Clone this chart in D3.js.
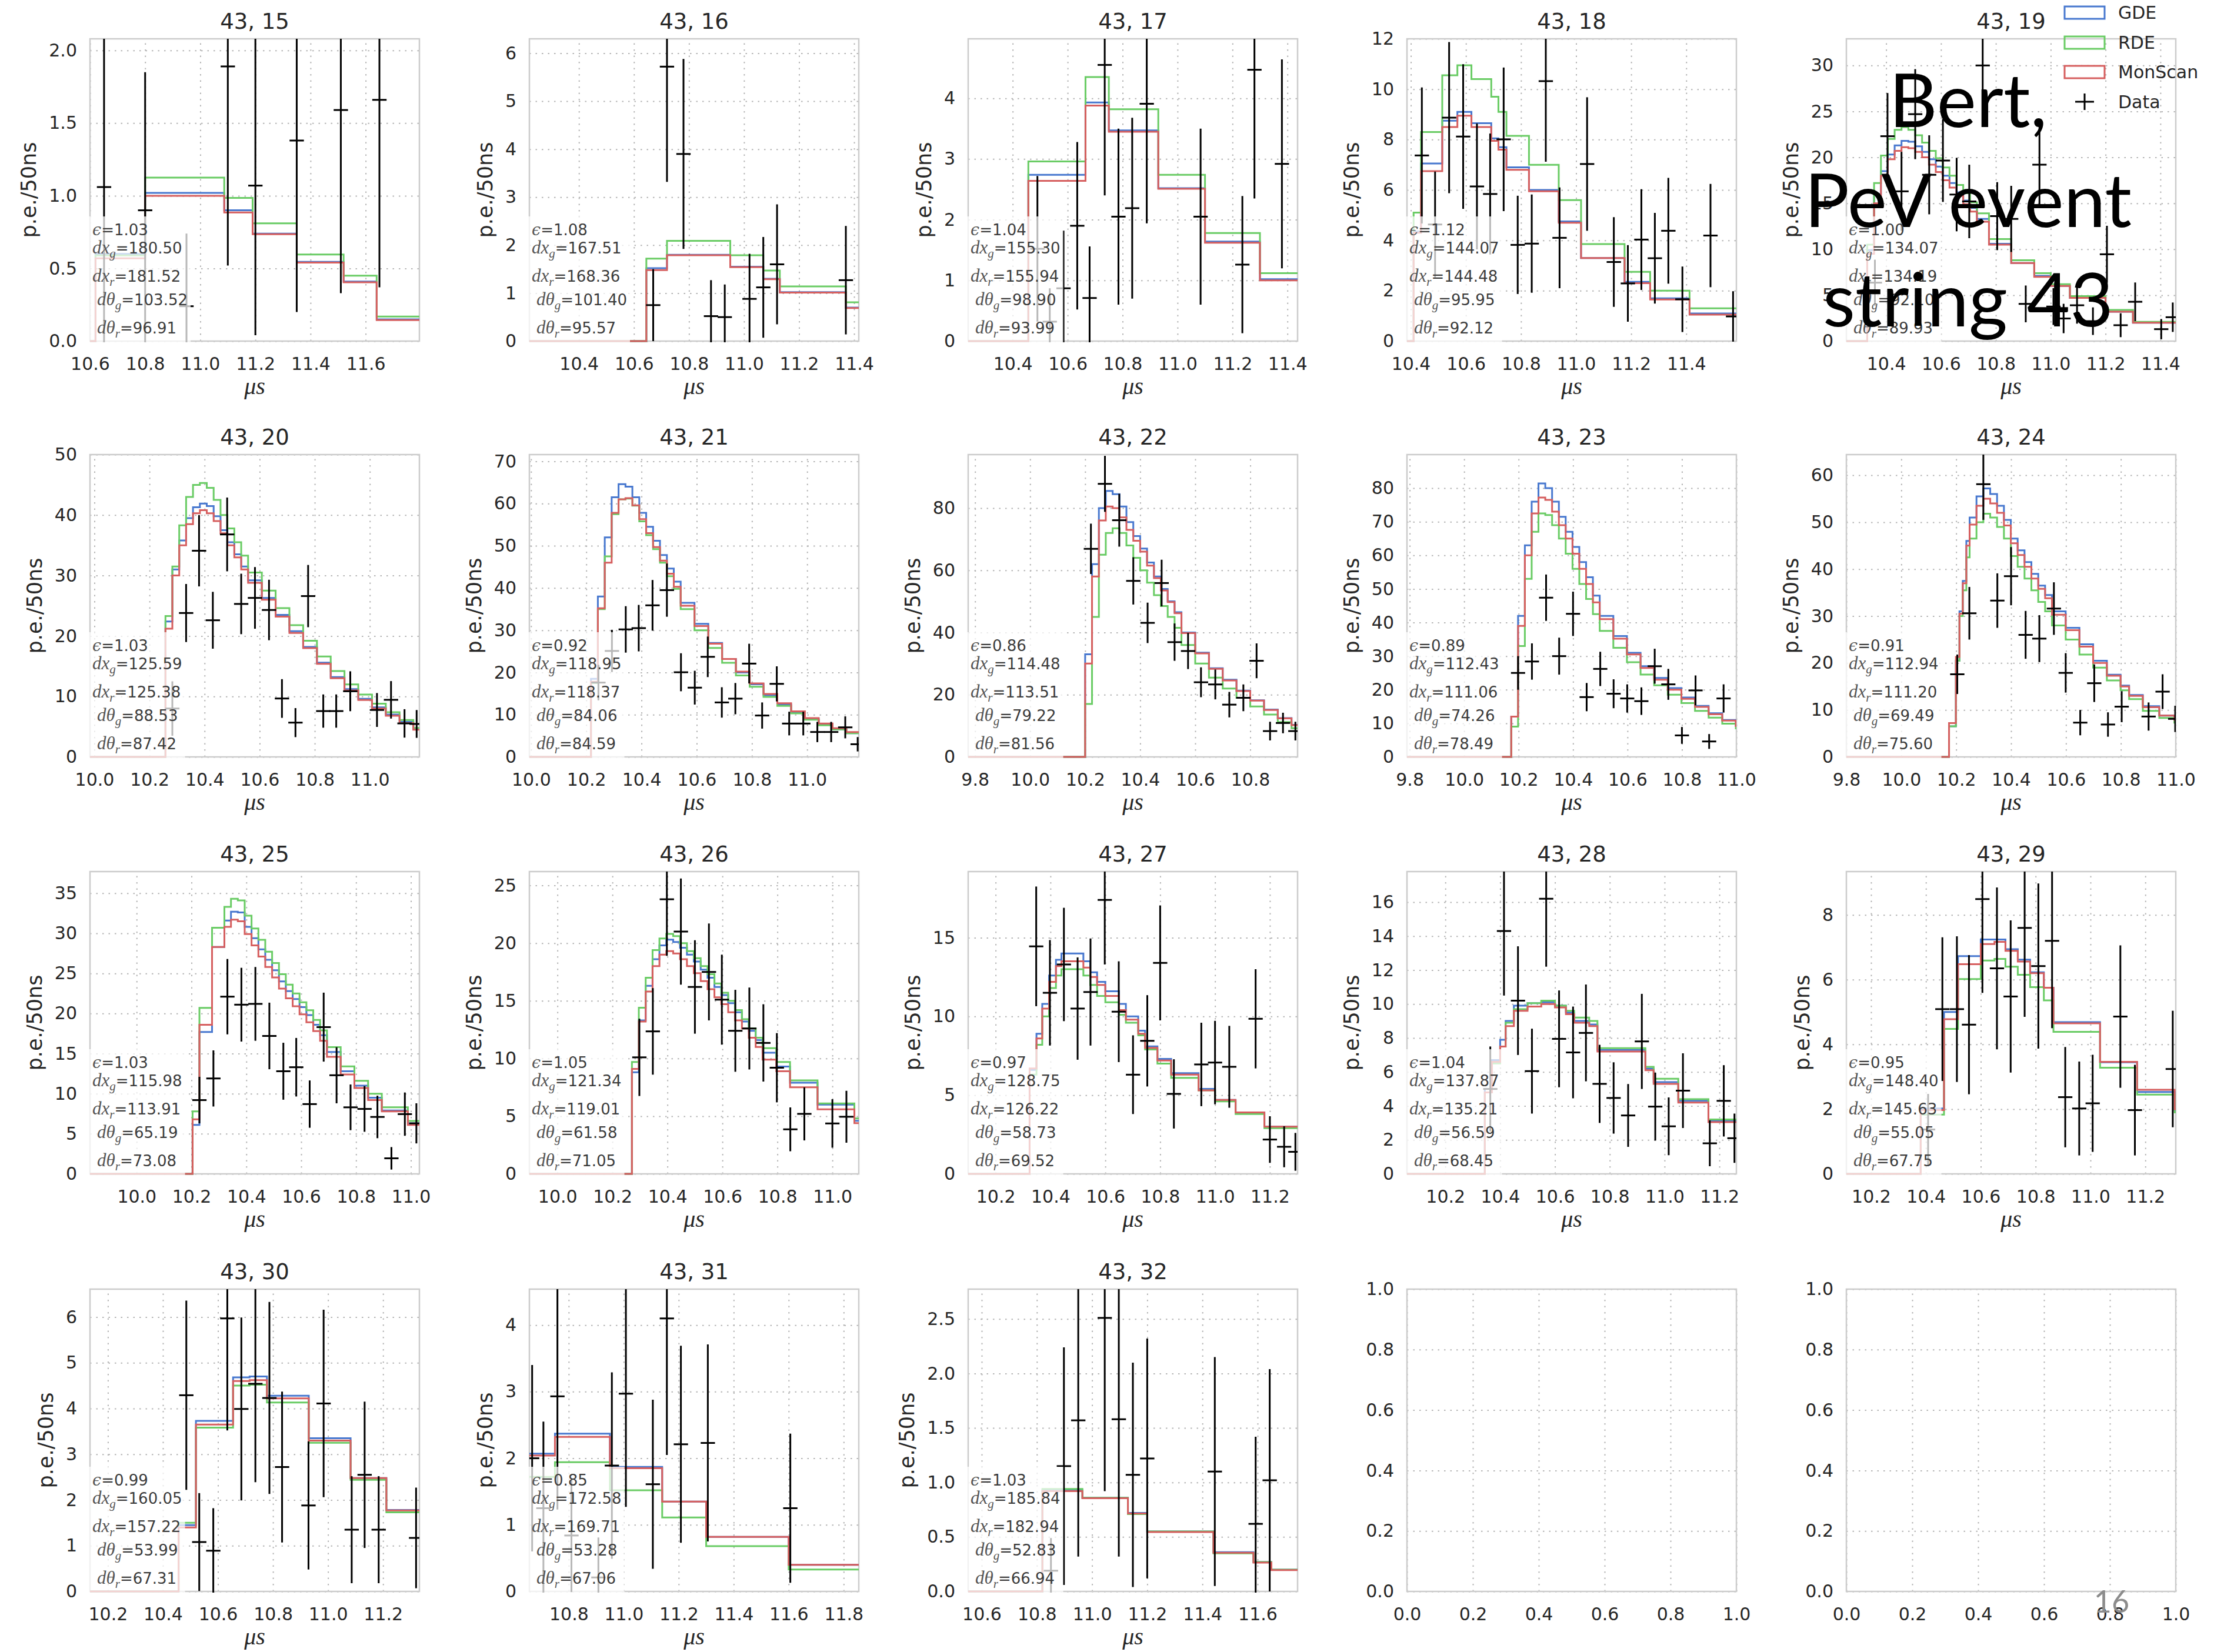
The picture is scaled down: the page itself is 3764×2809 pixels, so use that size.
<!DOCTYPE html>
<html><head><meta charset="utf-8">
<script src="https://cdn.jsdelivr.net/npm/d3@7/dist/d3.min.js"></script>
<style>body{margin:0;background:#fff}svg{display:block}</style>
</head><body>
<svg id="chart" width="3764" height="2809"></svg>
<script>
// ---------------- DATA ----------------
const panelIds = [15,16,17,18,19,20,21,22,23,24,25,26,27,28,29,30,31,32];
const seriesNames = ['GDE','RDE','MonScan','Data'];
const seriesColors = ['#4878CF','#6ACC65','#D65F5F','#000000'];

const xDomains = [[10.6,11.795],[10.22,11.417],[10.238,11.437],[10.386,11.582],[10.255,11.456],[9.984,11.18],[9.994,11.187],[9.775,10.972],[9.79,11.0],[9.8,11.0],[9.83,11.031],[9.898,11.096],[10.1,11.301],[10.06,11.262],[10.11,11.311],[10.135,11.332],[10.657,11.855],[10.551,11.745]];
const yDomains = [[0,2.08],[0,6.3],[0,4.98],[0,12],[0,32.9],[0,50],[0,71.6],[0,97.2],[0,90],[0,64.4],[0,37.7],[0,26.2],[0,19.2],[0,17.8],[0,9.34],[0,6.61],[0,4.54],[0,2.774]];
const xTickLists = [
 [10.6,10.8,11.0,11.2,11.4,11.6],[10.4,10.6,10.8,11.0,11.2,11.4],[10.4,10.6,10.8,11.0,11.2,11.4],[10.4,10.6,10.8,11.0,11.2,11.4],[10.4,10.6,10.8,11.0,11.2,11.4],
 [10.0,10.2,10.4,10.6,10.8,11.0],[10.0,10.2,10.4,10.6,10.8,11.0],[9.8,10.0,10.2,10.4,10.6,10.8],[9.8,10.0,10.2,10.4,10.6,10.8,11.0],[9.8,10.0,10.2,10.4,10.6,10.8,11.0],
 [10.0,10.2,10.4,10.6,10.8,11.0],[10.0,10.2,10.4,10.6,10.8,11.0],[10.2,10.4,10.6,10.8,11.0,11.2],[10.2,10.4,10.6,10.8,11.0,11.2],[10.2,10.4,10.6,10.8,11.0,11.2],
 [10.2,10.4,10.6,10.8,11.0,11.2],[10.8,11.0,11.2,11.4,11.6,11.8],[10.6,10.8,11.0,11.2,11.4,11.6]];
const yTickLists = [
 [0,0.5,1.0,1.5,2.0],[0,1,2,3,4,5,6],[0,1,2,3,4],[0,2,4,6,8,10,12],[0,5,10,15,20,25,30],
 [0,10,20,30,40,50],[0,10,20,30,40,50,60,70],[0,20,40,60,80],[0,10,20,30,40,50,60,70,80],[0,10,20,30,40,50,60],
 [0,5,10,15,20,25,30,35],[0,5,10,15,20,25],[0,5,10,15],[0,2,4,6,8,10,12,14,16],[0,2,4,6,8],
 [0,1,2,3,4,5,6],[0,1,2,3,4],[0,0.5,1.0,1.5,2.0,2.5]];
const emptyTicks = [0,0.2,0.4,0.6,0.8,1.0];

// annotation values: epsilon, dx_g, dx_r, dtheta_g, dtheta_r
const annotations = [
 ["1.03","180.50","181.52","103.52","96.91"],["1.08","167.51","168.36","101.40","95.57"],["1.04","155.30","155.94","98.90","93.99"],
 ["1.12","144.07","144.48","95.95","92.12"],["1.00","134.07","134.19","92.10","89.93"],["1.03","125.59","125.38","88.53","87.42"],
 ["0.92","118.95","118.37","84.06","84.59"],["0.86","114.48","113.51","79.22","81.56"],["0.89","112.43","111.06","74.26","78.49"],
 ["0.91","112.94","111.20","69.49","75.60"],["1.03","115.98","113.91","65.19","73.08"],["1.05","121.34","119.01","61.58","71.05"],
 ["0.97","128.75","126.22","58.73","69.52"],["1.04","137.87","135.21","56.59","68.45"],["0.95","148.40","145.63","55.05","67.75"],
 ["0.99","160.05","157.22","53.99","67.31"],["0.85","172.58","169.71","53.28","67.06"],["1.03","185.84","182.94","52.83","66.94"]];

// histogram bin edges and values per panel
const edges15=[10.62,10.8,11.087,11.19,11.35,11.52,11.64,11.9];
const gde15=[0.60,1.02,0.90,0.74,0.545,0.41,0.15];
const rde15=[0.59,1.125,0.985,0.81,0.596,0.45,0.169];
const mon15=[0.57,1.0,0.885,0.735,0.54,0.405,0.145];

const edges16=[10.645,10.72,10.95,11.07,11.13,11.37,11.6];
const gde16=[1.52,1.8,1.55,1.3,1.02,0.7];
const rde16=[1.72,2.09,1.79,1.47,1.14,0.81];
const mon16=[1.48,1.79,1.54,1.29,1.01,0.69];

const edges17=[10.457,10.665,10.75,10.93,11.1,11.3,11.6];
const gde17=[2.74,3.93,3.47,2.52,1.64,1.02];
const rde17=[2.96,4.35,3.82,2.74,1.78,1.12];
const mon17=[2.64,3.88,3.45,2.51,1.62,1.0];

const edges18=[10.41,10.437,10.514,10.569,10.62,10.692,10.718,10.747,10.829,10.937,11.018,11.176,11.269,11.412,11.7];
const gde18=[4.35,7.05,8.75,9.1,8.65,8.05,7.7,6.9,6.0,4.75,3.3,2.35,1.7,1.1];
const rde18=[5.1,8.3,10.55,10.95,10.4,9.7,9.1,8.15,7.0,5.6,3.85,2.75,2.0,1.3];
const mon18=[4.3,6.75,8.5,8.95,8.5,7.95,7.6,6.8,5.95,4.7,3.3,2.3,1.65,1.05];

const edges19=[10.331,10.356,10.381,10.406,10.431,10.456,10.481,10.506,10.531,10.556,10.581,10.606,10.631,10.656,10.681,10.706,10.731,10.775,10.856,10.94,11.0,11.07,11.2,11.3,11.6];
const gde19=[9.9,16.0,18.5,20.3,21.3,21.8,21.7,21.2,20.6,19.8,19.0,18.0,17.2,16.2,15.3,14.5,13.3,10.6,8.5,7.1,6.0,4.7,3.2,2.0];
const rde19=[10.5,17.2,20.2,22.0,23.0,23.3,23.0,22.4,21.6,20.7,19.9,18.9,18.0,17.0,16.1,15.1,13.9,11.1,8.8,7.4,6.2,4.9,3.4,2.1];
const mon19=[9.5,15.0,18.0,19.8,20.7,21.1,21.0,20.6,20.0,19.2,18.4,17.5,16.7,15.8,14.9,14.1,13.0,10.5,8.5,7.0,6.0,4.7,3.2,2.0];

const edges20=[10.258,10.283,10.308,10.333,10.358,10.383,10.408,10.433,10.458,10.483,10.508,10.533,10.558,10.608,10.658,10.708,10.758,10.808,10.858,10.908,10.958,11.008,11.058,11.108,11.158,11.208];
const gde20=[22.4,31.0,35.8,39.5,41.3,41.9,41.5,39.8,37.5,35.5,33.5,31.5,29.2,26.3,23.5,20.8,18.2,15.6,13.2,11.2,9.6,8.2,7.0,5.8,4.6];
const rde20=[23.3,31.5,38.3,43.0,45.0,45.3,44.5,42.5,40.0,37.8,35.5,33.3,30.5,27.5,24.6,21.8,19.2,16.6,14.2,12.0,10.3,8.8,7.4,6.1,4.8];
const mon20=[21.2,30.0,35.0,38.5,40.3,40.8,40.3,39.0,37.0,35.0,33.0,31.0,28.8,26.0,23.2,20.5,18.0,15.4,13.0,11.0,9.4,8.0,6.8,5.6,4.5];

const edges21=[10.217,10.242,10.267,10.292,10.317,10.342,10.367,10.392,10.417,10.442,10.467,10.492,10.517,10.542,10.592,10.642,10.692,10.742,10.792,10.842,10.892,10.942,10.992,11.042,11.092,11.142,11.192,11.242];
const gde21=[18.5,38.0,52.0,61.5,64.6,64.0,61.5,57.8,54.5,51.2,47.8,44.6,41.5,36.5,31.5,27.0,23.2,20.0,17.2,14.6,12.4,10.5,8.9,7.6,6.5,5.6,4.9];
const rde21=[17.5,35.0,47.5,57.5,61.0,61.2,59.5,55.8,52.5,49.2,46.0,42.8,39.8,35.0,30.0,25.8,22.3,19.3,16.6,14.2,12.1,10.3,8.8,7.5,6.5,5.6,4.9];
const mon21=[17.8,35.2,46.0,57.8,61.0,61.3,59.6,56.3,53.0,49.7,46.5,43.4,40.3,35.8,31.0,26.8,23.2,20.2,17.4,14.9,12.7,10.8,9.2,7.9,6.8,5.9,5.1];

const edges22=[10.2,10.225,10.25,10.275,10.3,10.325,10.35,10.375,10.4,10.425,10.45,10.475,10.5,10.525,10.55,10.6,10.65,10.7,10.75,10.8,10.85,10.9,10.95,11.0];
const gde22=[33,62,80,85.5,84.5,80.5,75.5,71,67,62.5,58,54,50,46.5,40,33.5,28.5,24.8,21.3,18.2,15.2,12.5,10.3];
const rde22=[17,45,65,72,73.5,72,68,64,60,56,52,48.5,45,41.5,36,30,25.5,22,19,16.2,13.6,11.2,9.2];
const mon22=[30,58,76,80.5,80,77,73,69.5,66,61.5,57.5,53.5,49.8,46.2,39.8,33.3,28.3,24.6,21.2,18.1,15.1,12.4,10.2];

const edges23=[10.173,10.198,10.223,10.248,10.273,10.298,10.323,10.348,10.373,10.398,10.423,10.448,10.473,10.498,10.548,10.598,10.648,10.698,10.748,10.798,10.848,10.898,10.948,10.998,11.048];
const gde23=[12,42,63,76,81.4,80,76,71.5,67,62.5,58,53.5,48,42,36,31,27,23.5,20.5,17.7,15.2,13.0,11.0,9.4];
const rde23=[9,33,53,67,72.5,72,69,65,60.5,56,51.5,47,42.5,37.5,32.5,28.2,24.5,21.3,18.5,16,13.7,11.7,9.9,8.5];
const mon23=[12,39,60,72.5,77.2,76.5,73,69,65,60.5,56,51.5,46,41,35.2,30.5,26.5,23,20,17.3,14.9,12.7,10.8,9.2];

const edges24=[10.174,10.199,10.212,10.224,10.237,10.249,10.274,10.299,10.324,10.349,10.374,10.399,10.424,10.449,10.474,10.499,10.524,10.549,10.599,10.649,10.699,10.749,10.799,10.83,10.88,10.94,10.995,11.05];
const gde24=[6.5,20.5,31,37.5,46,51,55.5,57.2,56,53.5,50.5,46.5,44,41.5,39,36.5,34.5,31,27.5,24,20.5,17.5,15.2,13.2,10.8,8.8,8.0];
const rde24=[6.5,20.5,30,35.5,42.5,46.5,50,51.8,51,49,46.5,42.8,40.5,38,35.5,33,31,28,25,21.8,19,16.3,14.2,12.3,9.8,8.3,7.3];
const mon24=[7.2,21.3,30.5,37,45,49.5,53.5,55,54,52,49.3,45.5,43,40.5,38,35.8,33.8,30.3,27,23.5,20,17.3,15,13,10.6,8.8,7.9];

const edges25=[10.204,10.229,10.275,10.32,10.344,10.369,10.394,10.419,10.444,10.469,10.494,10.519,10.544,10.569,10.594,10.619,10.644,10.669,10.694,10.744,10.794,10.844,10.894,10.989,11.1];
const gde25=[6.1,17.7,28.3,31.6,32.7,32.6,30.8,29.4,28.0,26.7,25.4,24.0,22.8,21.8,20.8,19.8,18.6,17.3,15.2,12.8,11.0,9.5,7.9,6.3];
const rde25=[7.8,20.7,30.7,33.3,34.3,34.1,32.2,30.6,29.2,27.7,26.3,24.9,23.6,22.5,21.4,20.4,19.2,17.9,15.8,13.4,11.6,10.0,8.3,6.6];
const mon25=[6.8,18.6,28.3,30.8,31.7,31.5,29.9,28.5,27.1,25.8,24.5,23.1,21.9,20.9,19.9,18.9,17.8,16.6,14.6,12.4,10.7,9.2,7.8,6.1];

const edges26=[10.271,10.296,10.321,10.346,10.371,10.396,10.421,10.446,10.471,10.496,10.521,10.546,10.571,10.596,10.621,10.646,10.671,10.696,10.721,10.746,10.796,10.846,10.946,11.08,11.2];
const gde26=[8.8,13.3,16.3,18.6,19.8,20.3,20.1,19.6,19.0,18.4,17.7,17.0,16.2,15.5,14.8,14.0,13.2,12.4,11.6,10.5,9.3,7.9,6.0,4.6];
const rde26=[9.7,14.4,17.0,19.4,20.4,20.8,20.6,20.0,19.3,18.7,18.0,17.3,16.5,15.7,15.0,14.2,13.4,12.6,11.8,10.9,9.7,8.1,6.1,4.8];
const mon26=[9.1,13.2,15.8,18.0,19.0,19.3,19.1,18.6,18.0,17.4,16.7,16.0,15.3,14.7,14.0,13.3,12.6,11.8,11.0,9.9,8.9,7.5,5.6,4.4];

const edges27=[10.324,10.349,10.37,10.395,10.42,10.44,10.52,10.545,10.57,10.6,10.65,10.675,10.72,10.745,10.79,10.84,10.94,11.0,11.075,11.18,11.4];
const gde27=[6.6,8.9,10.8,12.6,13.6,14.0,13.5,12.8,12.2,11.6,10.8,10.0,9.1,8.1,7.3,6.4,5.4,4.7,3.9,3.0];
const rde27=[6.3,8.2,10.0,11.8,12.6,13.0,12.6,12.0,11.3,10.9,10.1,9.6,8.8,7.9,7.0,6.1,5.3,4.6,3.8,2.9];
const mon27=[6.7,8.6,10.5,12.2,13.2,13.5,13.1,12.5,12.0,11.3,10.4,9.8,8.9,8.0,7.2,6.3,5.3,4.7,3.9,3.0];

const edges28=[10.344,10.37,10.4,10.42,10.45,10.5,10.55,10.6,10.64,10.67,10.725,10.755,10.93,10.96,11.05,11.16,11.35];
const gde28=[5.0,6.7,7.9,9.0,9.9,10.05,10.1,9.9,9.5,9.0,8.8,7.3,6.2,5.4,4.3,3.1];
const rde28=[4.8,6.5,7.5,8.9,9.7,10.05,10.2,9.9,9.6,9.2,9.0,7.4,6.3,5.6,4.4,3.2];
const mon28=[4.8,6.6,7.5,8.7,9.6,9.85,10.0,9.8,9.4,8.9,8.7,7.2,6.1,5.3,4.2,3.05];

const edges29=[10.381,10.466,10.517,10.6,10.65,10.69,10.735,10.78,10.83,10.865,11.035,11.17,11.307,11.45];
const gde29=[2.02,5.0,6.73,7.24,7.24,6.94,6.62,6.23,5.75,4.69,3.45,2.53,1.95];
const rde29=[1.83,4.48,6.02,6.59,6.64,6.4,6.15,5.77,5.36,4.39,3.28,2.45,1.9];
const mon29=[1.97,4.78,6.48,7.1,7.17,6.89,6.56,6.2,5.75,4.65,3.46,2.6,2.0];

const edges30=[10.457,10.52,10.655,10.715,10.778,10.93,11.082,11.212,11.45];
const gde30=[1.45,3.73,4.68,4.7,4.28,3.35,2.48,1.78];
const rde30=[1.5,3.58,4.5,4.52,4.13,3.25,2.44,1.73];
const mon30=[1.4,3.65,4.6,4.62,4.22,3.3,2.48,1.77];

const edges31=[10.6,10.75,10.95,11.14,11.3,11.6,12.0];
const gde31=[2.07,2.37,1.87,1.35,0.82,0.4];
const rde31=[1.72,1.94,1.52,1.11,0.68,0.33];
const mon31=[2.04,2.32,1.85,1.35,0.82,0.4];

const edges32=[10.82,10.965,11.13,11.2,11.44,11.585,11.65,12.0];
const gde32=[0.93,0.86,0.72,0.55,0.36,0.27,0.2];
const rde32=[0.94,0.86,0.71,0.55,0.35,0.27,0.2];
const mon32=[0.92,0.855,0.715,0.545,0.355,0.265,0.195];

// data points: [time (us), p.e./50ns, error]
const pts15=[[10.651,1.06,1.1],[10.80,0.9,0.95],[10.95,0.24,0.5],[11.10,1.89,1.37],[11.2,1.07,1.03],[11.35,1.38,1.18],[11.51,1.59,1.26],[11.65,1.66,1.29]];
const pts16=[[10.67,0.75,0.75],[10.72,5.72,2.4],[10.78,3.9,1.98],[10.88,0.52,0.75],[10.93,0.5,0.68],[11.02,0.88,0.94],[11.07,1.12,1.05],[11.12,1.6,1.25],[11.37,1.27,1.13]];
const pts17=[[10.49,1.52,1.2],[10.535,0.32,0.55],[10.585,0.87,0.95],[10.635,1.9,1.38],[10.68,0.71,0.85],[10.735,4.55,2.15],[10.785,2.05,1.45],[10.835,2.19,1.49],[10.888,3.91,1.97],[11.084,2.05,1.45],[11.236,1.26,1.13],[11.28,4.47,2.12],[11.38,2.92,1.72]];
const pts18=[[10.44,7.37,2.7],[10.488,4.63,2.1],[10.539,8.87,3.0],[10.59,8.12,2.87],[10.64,6.14,2.5],[10.688,5.84,2.4],[10.737,8.01,2.85],[10.788,3.82,1.95],[10.839,3.87,1.95],[10.89,10.32,3.2],[10.94,4.1,2.0],[11.04,7.03,2.65],[11.137,3.14,1.78],[11.188,2.29,1.52],[11.237,4.03,2.0],[11.286,3.29,1.8],[11.335,4.38,2.1],[11.386,1.66,1.3],[11.488,4.19,2.05],[11.57,0.98,1.0]];
const pts19=[[10.359,6.36,2.5],[10.405,22.3,4.7],[10.456,16.3,4.3],[10.506,24.7,4.9],[10.557,18.1,4.3],[10.607,19.65,4.5],[10.657,15.95,4.0],[10.703,15.2,4.0],[10.752,30.0,5.4],[10.805,13.6,3.7],[10.856,13.3,3.6],[10.909,4.05,2.0],[10.959,19.2,4.4],[11.01,3.76,2.0],[11.047,2.46,1.6],[11.096,3.9,2.0],[11.154,2.17,1.5],[11.205,9.45,3.1],[11.255,1.73,1.3],[11.308,4.28,2.1],[11.403,1.3,1.1],[11.445,2.6,1.6]];
const pts20=[[10.283,8.0,4.5],[10.333,23.8,4.8],[10.38,34.1,5.9],[10.43,22.6,4.7],[10.482,36.8,6.1],[10.533,25.3,5.0],[10.583,26.3,5.1],[10.634,24.3,5.0],[10.681,9.66,3.2],[10.73,5.67,2.4],[10.776,26.6,5.15],[10.831,7.58,2.75],[10.878,7.58,2.75],[10.929,10.86,3.3],[11.026,7.76,2.8],[11.077,9.44,3.1],[11.126,5.54,2.35],[11.17,5.45,2.3]];
const pts21=[[10.244,17.6,4.2],[10.293,25.1,5.0],[10.343,30.2,5.5],[10.39,30.5,5.5],[10.44,35.9,6.0],[10.492,39.5,6.3],[10.543,20.05,4.5],[10.593,16.4,4.0],[10.64,23.7,4.8],[10.691,12.9,3.6],[10.74,13.8,3.7],[10.79,22.1,4.7],[10.837,9.8,3.1],[10.89,17.3,4.15],[10.935,7.9,2.8],[10.986,7.9,2.8],[11.037,5.9,2.4],[11.087,5.9,2.4],[11.138,7.0,2.6],[11.183,3.0,1.7]];
const pts22=[[10.221,66.9,8.1],[10.272,87.8,9.0],[10.324,76.1,8.5],[10.375,56.6,7.6],[10.427,43.1,6.5],[10.478,55.9,7.5],[10.525,36.9,6.0],[10.574,34.05,5.8],[10.621,24.0,4.8],[10.673,23.3,4.8],[10.724,16.8,4.1],[10.775,19.0,4.3],[10.823,30.9,5.6],[10.872,8.3,3.0],[10.919,10.9,3.3],[10.964,8.3,3.0]];
const pts23=[[10.198,25,5],[10.249,28.4,5.4],[10.301,47.4,6.9],[10.349,30,5.5],[10.4,42.6,6.6],[10.45,17.8,4.2],[10.5,26.2,5.1],[10.549,18.8,4.3],[10.599,17.4,4.2],[10.651,16.6,4.1],[10.7,27,5.2],[10.75,21.6,4.6],[10.8,6.4,2.5],[10.85,19.8,4.45],[10.9,4.6,2.2],[10.953,17.4,4.2]];
const pts24=[[10.204,17.6,4.2],[10.248,30.6,5.6],[10.299,58.1,7.6],[10.35,33.3,5.8],[10.4,38.5,6.2],[10.453,26,5.1],[10.503,25.2,5.0],[10.556,31.6,5.6],[10.599,17.9,4.2],[10.652,7.3,2.7],[10.703,15.7,4.0],[10.753,6.9,2.6],[10.803,10.7,3.3],[10.901,8.6,3.0],[10.952,13.9,3.7],[10.998,8.1,2.8]];
const pts25=[[10.229,9.2,2.9],[10.28,11.9,3.5],[10.331,22.1,4.7],[10.382,21.1,4.6],[10.433,21.2,4.6],[10.484,17.2,4.15],[10.535,12.8,3.55],[10.582,13.3,3.65],[10.631,8.7,2.95],[10.682,18.3,4.3],[10.729,12.3,3.5],[10.78,8.3,2.85],[10.831,8.1,2.85],[10.878,7.1,2.65],[10.929,1.94,1.4],[10.978,7.45,2.7],[11.02,6.3,2.5]];
const pts26=[[10.298,10.1,3.35],[10.347,12.35,3.75],[10.398,23.8,4.9],[10.449,21.0,4.6],[10.5,16.2,4.05],[10.551,17.5,4.2],[10.598,15.1,3.9],[10.647,12.4,3.55],[10.698,12.6,3.55],[10.749,11.35,3.35],[10.798,9.2,3.0],[10.847,3.86,1.9],[10.898,5.2,2.3],[11.0,4.37,2.1],[11.051,4.95,2.25]];
const pts27=[[10.348,14.45,3.8],[10.398,11.5,3.35],[10.449,13.3,3.6],[10.499,10.5,3.25],[10.546,11.55,3.4],[10.598,17.4,4.1],[10.649,10.3,3.2],[10.701,6.3,2.5],[10.753,8.45,2.9],[10.8,13.4,3.65],[10.85,5.08,2.2],[10.95,6.95,2.65],[11.0,7.07,2.65],[11.052,6.8,2.6],[11.148,9.85,3.15],[11.2,2.18,1.48],[11.252,1.72,1.3],[11.293,1.4,1.2]];
const pts28=[[10.364,5.0,2.5],[10.414,14.3,3.8],[10.465,10.2,3.2],[10.516,6.05,2.5],[10.568,16.2,4.0],[10.615,7.95,2.85],[10.666,7.15,2.7],[10.713,8.3,2.85],[10.763,5.3,2.3],[10.814,4.47,2.1],[10.867,3.44,1.85],[10.917,7.8,2.8],[10.966,3.96,2.0],[11.015,2.8,1.7],[11.067,4.9,2.2],[11.165,1.8,1.35],[11.216,4.3,2.1],[11.255,2.1,1.45]];
const pts29=[[10.408,1.37,1.1],[10.46,5.09,2.22],[10.513,5.09,2.25],[10.557,4.61,2.15],[10.606,8.49,2.9],[10.659,6.35,2.5],[10.709,5.48,2.35],[10.76,7.6,2.75],[10.81,6.42,2.55],[10.86,7.2,2.7],[10.908,2.37,1.55],[10.959,2.02,1.45],[11.008,2.18,1.5],[11.109,4.86,2.2],[11.162,1.97,1.4],[11.3,3.24,1.8]];
const pts30=[[10.485,4.29,2.07],[10.532,1.08,1.07],[10.583,0.89,0.93],[10.634,5.97,2.45],[10.685,3.99,2.0],[10.736,4.54,2.15],[10.787,4.23,2.1],[10.833,2.72,1.65],[10.929,1.88,1.4],[10.984,4.11,2.05],[11.086,1.35,1.17],[11.133,2.55,1.6],[11.184,1.35,1.17],[11.32,1.17,1.1]];
const pts31=[[10.667,2.0,1.4],[10.708,1.25,1.3],[10.759,2.93,1.7],[10.81,0.84,0.85],[10.908,0.21,0.6],[10.957,1.89,1.4],[11.008,2.97,1.7],[11.106,1.61,1.27],[11.157,4.1,2.05],[11.208,2.21,1.48],[11.306,2.23,1.48],[11.606,1.25,1.12]];
const pts32=[[10.851,0.19,0.3],[10.898,1.15,1.09],[10.95,1.57,1.25],[11.046,2.51,1.59],[11.097,1.58,1.26],[11.148,1.07,1.03],[11.2,1.22,1.1],[11.445,1.1,1.05],[11.593,0.62,0.8],[11.644,1.02,1.02]];

const edgesList=[edges15,edges16,edges17,edges18,edges19,edges20,edges21,edges22,edges23,edges24,edges25,edges26,edges27,edges28,edges29,edges30,edges31,edges32];
const gdeList=[gde15,gde16,gde17,gde18,gde19,gde20,gde21,gde22,gde23,gde24,gde25,gde26,gde27,gde28,gde29,gde30,gde31,gde32];
const rdeList=[rde15,rde16,rde17,rde18,rde19,rde20,rde21,rde22,rde23,rde24,rde25,rde26,rde27,rde28,rde29,rde30,rde31,rde32];
const monList=[mon15,mon16,mon17,mon18,mon19,mon20,mon21,mon22,mon23,mon24,mon25,mon26,mon27,mon28,mon29,mon30,mon31,mon32];
const ptsList=[pts15,pts16,pts17,pts18,pts19,pts20,pts21,pts22,pts23,pts24,pts25,pts26,pts27,pts28,pts29,pts30,pts31,pts32];

// ---------------- LAYOUT ----------------
const PL=[153,900,1646,2392,3139];
const PT=[66,773,1482,2192];
const PW=560, PH=514;
const TXT='#262626';
const svg=d3.select('#chart');
const defs=svg.append('defs');

function fmtFor(ticks){
  const dec=ticks.some(t=>Math.abs(t-Math.round(t))>1e-9);
  return dec?d3.format('.1f'):d3.format('d');
}

function drawFrame(g,x,y,xt,yt,left,top,fx,fy){
  const gx=g.append('g').attr('transform',`translate(0,${top+PH})`)
    .call(d3.axisBottom(x).tickValues(xt).tickSize(-PH).tickFormat(''));
  gx.select('.domain').remove();
  gx.selectAll('line').attr('stroke','#b4b4b4').attr('stroke-width',2).attr('stroke-dasharray','2.5,8');
  const gy=g.append('g').attr('transform',`translate(${left},0)`)
    .call(d3.axisLeft(y).tickValues(yt).tickSize(-PW).tickFormat(''));
  gy.select('.domain').remove();
  gy.selectAll('line').attr('stroke','#b4b4b4').attr('stroke-width',2).attr('stroke-dasharray','2.5,8');
  const ax=g.append('g').attr('transform',`translate(0,${top+PH})`)
    .call(d3.axisBottom(x).tickValues(xt).tickSize(0).tickPadding(28).tickFormat(fx));
  ax.select('.domain').remove();
  ax.selectAll('text').attr('font-family','DejaVu Sans').attr('font-size',30).attr('fill',TXT);
  const ay=g.append('g').attr('transform',`translate(${left},0)`)
    .call(d3.axisLeft(y).tickValues(yt).tickSize(0).tickPadding(22).tickFormat(fy));
  ay.select('.domain').remove();
  ay.selectAll('text').attr('font-family','DejaVu Sans').attr('font-size',30).attr('fill',TXT);
  let maxW=0; ay.selectAll('text').each(function(){maxW=Math.max(maxW,this.getComputedTextLength());});
  return maxW;
}

function stepPoints(edges,vals,x0){
  const p=[[x0,0],[edges[0],0]];
  vals.forEach((v,k)=>{p.push([edges[k],v]);p.push([edges[k+1],v]);});
  p.push([edges[edges.length-1],0]);
  return p;
}

function annLine(g,x,yb,kind,sub,val){
  const t=g.append('text').attr('x',x).attr('y',yb).attr('fill','#3c3c3c');
  if(kind==='eps'){
    t.append('tspan').attr('font-family','DejaVu Serif').attr('font-style','italic').attr('font-size',27).attr('fill','#555').text('\u03F5');
  } else {
    t.append('tspan').attr('font-family','Liberation Serif').attr('font-style','italic').attr('font-size',31).attr('fill','#555').text(kind);
    t.append('tspan').attr('font-family','Liberation Serif').attr('font-style','italic').attr('font-size',21).attr('fill','#555').attr('dy',7).text(sub);
  }
  const v=t.append('tspan').attr('font-family','DejaVu Sans').attr('font-size',26).text('='+val);
  if(kind!=='eps') v.attr('dy',-7);
}

panelIds.forEach((id,i)=>{
  const col=i%5,row=Math.floor(i/5);
  const left=PL[col],top=PT[row];
  const x=d3.scaleLinear().domain(xDomains[i]).range([left,left+PW]);
  const y=d3.scaleLinear().domain(yDomains[i]).range([top+PH,top]);
  const g=svg.append('g');
  const maxW=drawFrame(g,x,y,xTickLists[i],yTickLists[i],left,top,d3.format('.1f'),fmtFor(yTickLists[i]));
  g.append('rect').attr('x',left).attr('y',top).attr('width',PW).attr('height',PH)
    .attr('fill','none').attr('stroke','#cccccc').attr('stroke-width',2.5);
  const cid='clip'+id;
  defs.append('clipPath').attr('id',cid).append('rect')
    .attr('x',left).attr('y',top).attr('width',PW).attr('height',PH+2);
  const pg=g.append('g').attr('clip-path',`url(#${cid})`);
  const line=d3.line().x(d=>x(d[0])).y(d=>y(d[1]));
  const x0=xDomains[i][0]-0.5;
  [gdeList[i],rdeList[i],monList[i]].forEach((vals,s)=>{
    pg.append('path').attr('d',line(stepPoints(edgesList[i],vals,x0)))
      .attr('fill','none').attr('stroke',seriesColors[s]).attr('stroke-width',3);
  });
  const dg=pg.append('g').attr('stroke','#000').attr('stroke-width',3);
  ptsList[i].forEach(p=>{
    dg.append('line').attr('x1',x(p[0])).attr('x2',x(p[0])).attr('y1',y(p[1]-p[2])).attr('y2',y(p[1]+p[2]));
    dg.append('line').attr('x1',x(p[0]-0.026)).attr('x2',x(p[0]+0.026)).attr('y1',y(p[1])).attr('y2',y(p[1]));
  });
  const bottom=top+PH;
  const a=annotations[i];
  const ag=g.append('g');
  annLine(ag,left+4,bottom-180,'eps','',a[0]);
  annLine(ag,left+4,bottom-149,'dx','g',a[1]);
  annLine(ag,left+4,bottom-101,'dx','r',a[2]);
  annLine(ag,left+12,bottom-61,'d\u03B8','g',a[3]);
  annLine(ag,left+12,bottom-13,'d\u03B8','r',a[4]);
  const bb=ag.node().getBBox();
  g.insert('rect',()=>ag.node()).attr('x',left-6).attr('y',bottom-212)
    .attr('width',bb.x+bb.width+5-(left-6)).attr('height',220)
    .attr('fill','#fff').attr('fill-opacity',0.72);
  g.append('text').attr('x',left+PW/2).attr('y',top-17).attr('text-anchor','middle')
    .attr('font-family','DejaVu Sans').attr('font-size',37).attr('fill',TXT).text('43, '+id);
  const lx=left-22-maxW-34;
  g.append('text').attr('transform',`translate(${lx},${top+PH/2}) rotate(-90)`)
    .attr('text-anchor','middle').attr('dominant-baseline','central')
    .attr('font-family','DejaVu Sans').attr('font-size',35).attr('fill',TXT).text('p.e./50ns');
  g.append('text').attr('x',left+PW/2).attr('y',bottom+90).attr('text-anchor','middle')
    .attr('font-family','Liberation Serif').attr('font-style','italic').attr('font-size',40).attr('fill',TXT).text('\u03BCs');
});

// empty panels
[18,19].forEach(i=>{
  const col=i%5,row=Math.floor(i/5);
  const left=PL[col],top=PT[row];
  const x=d3.scaleLinear().domain([0,1]).range([left,left+PW]);
  const y=d3.scaleLinear().domain([0,1]).range([top+PH,top]);
  const g=svg.append('g');
  drawFrame(g,x,y,emptyTicks,emptyTicks,left,top,d3.format('.1f'),d3.format('.1f'));
  g.append('rect').attr('x',left).attr('y',top).attr('width',PW).attr('height',PH)
    .attr('fill','none').attr('stroke','#cccccc').attr('stroke-width',2.5);
});

// legend (in panel 43,19)
const lg=svg.append('g');
const legY=[21,72,122,173];
seriesNames.forEach((n,k)=>{
  if(k<3){
    lg.append('rect').attr('x',3510).attr('y',legY[k]-10).attr('width',68).attr('height',21)
      .attr('fill','none').attr('stroke',seriesColors[k]).attr('stroke-width',3);
  } else {
    lg.append('line').attr('x1',3528).attr('x2',3560).attr('y1',legY[k]).attr('y2',legY[k]).attr('stroke','#000').attr('stroke-width',3);
    lg.append('line').attr('x1',3544).attr('x2',3544).attr('y1',legY[k]-14).attr('y2',legY[k]+14).attr('stroke','#000').attr('stroke-width',3);
  }
  lg.append('text').attr('x',3601).attr('y',legY[k]).attr('dominant-baseline','central')
    .attr('font-family','DejaVu Sans').attr('font-size',30).attr('fill',TXT).text(n);
});

// overlay text (slide annotation)
const overlay=['Bert,','PeV event','string 43'];
const overlayY=[216,386,555];
overlay.forEach((t,k)=>{
  svg.append('text').attr('x',3346).attr('y',overlayY[k]).attr('text-anchor','middle')
    .attr('font-family','Lato').attr('font-size',127).attr('fill','#000').text(t);
});
// page number
svg.append('text').attr('x',3590).attr('y',2742).attr('text-anchor','middle')
  .attr('font-family','Lato').attr('font-size',52).attr('fill','#8c8c8c').text('16');
</script>
</body></html>
